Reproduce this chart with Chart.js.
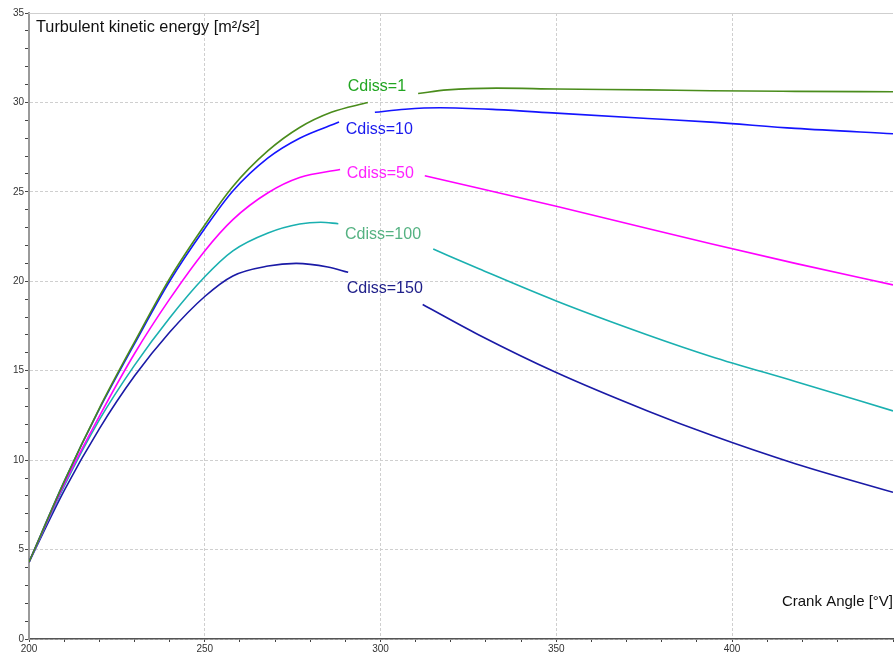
<!DOCTYPE html>
<html>
<head>
<meta charset="utf-8">
<script src="https://cdn.jsdelivr.net/npm/chart.js@4.4.0/dist/chart.umd.min.js"></script>
<style>
html, body { margin: 0; padding: 0; background: #fff; }
</style>
</head>
<body>
<canvas id="tkeChart" width="894" height="655"></canvas>
<script>
// curve names
var seriesNames = ['Cdiss=1', 'Cdiss=10', 'Cdiss=50', 'Cdiss=100', 'Cdiss=150'];

// crank angle [°V] / turbulent kinetic energy [m²/s²]; null = gap where the label sits
var angle1 = [200, 210, 220, 230, 240, 250, 258, 268, 277, 286, 296.4, 303, 310.7, 319, 333, 350, 376, 394, 418, 445.8];
var tke1   = [4.3, 8.8, 12.9, 16.6, 20.15, 23.15, 25.3, 27.3, 28.6, 29.45, 30.0, null, 30.5, 30.7, 30.8, 30.75, 30.7, 30.65, 30.62, 30.6];

var angle2 = [200, 210, 220, 230, 240, 250, 258, 268, 277, 288.2, 293, 298.4, 307, 317, 333, 350, 376, 394, 418, 445.8];
var tke2   = [4.3, 8.8, 12.85, 16.5, 20.0, 22.95, 25.05, 26.9, 28.0, 28.9, null, 29.45, 29.62, 29.7, 29.6, 29.4, 29.1, 28.9, 28.55, 28.25];

var angle3 = [200, 210, 220, 230, 240, 250, 258, 268, 277, 288.5, 300, 312.6, 328, 350, 376, 394, 418, 445.8];
var tke3   = [4.3, 8.65, 12.45, 15.95, 19.0, 21.7, 23.45, 24.95, 25.8, 26.25, null, 25.9, 25.2, 24.2, 22.95, 22.1, 21.0, 19.8];

var angle4 = [200, 210, 220, 230, 240, 250, 258, 268, 277, 283, 288, 300, 315, 328, 350, 376, 394, 418, 445.8];
var tke4   = [4.3, 8.55, 12.25, 15.3, 17.95, 20.25, 21.7, 22.7, 23.2, 23.3, 23.22, null, 21.8, 20.7, 18.9, 17.0, 15.8, 14.4, 12.75];

var angle5 = [200, 210, 220, 230, 240, 250, 258, 268, 276, 285, 290.8, 300, 312, 328, 350, 376, 394, 418, 445.8];
var tke5   = [4.3, 8.3, 11.75, 14.7, 17.15, 19.15, 20.3, 20.85, 21.0, 20.8, 20.5, null, 18.7, 17.0, 14.9, 12.75, 11.4, 9.8, 8.2];

var lineColors  = ['#4a8c1c', '#1414ff', '#ff00ff', '#1ab0b0', '#1a1aa6'];
var labelColors = ['#22a622', '#1a1aee', '#ff22ff', '#55b282', '#20208a'];

// where the curve labels go, in data units
var labelAngle = [290.7, 290.1, 290.4, 289.9, 290.4];
var labelTke   = [30.9, 28.5, 26.0, 22.6, 19.6];

var angleMajor = 50;
var tkeMajor = 5;

function toPoints(xs, ys) {
    var pts = [];
    for (var i = 0; i < xs.length; i++) {
        pts.push({ x: xs[i], y: ys[i] });
    }
    return pts;
}

var allAngles = [angle1, angle2, angle3, angle4, angle5];
var allTke = [tke1, tke2, tke3, tke4, tke5];

var datasets = [];
for (var s = 0; s < seriesNames.length; s++) {
    datasets.push({
        label: seriesNames[s],
        data: toPoints(allAngles[s], allTke[s]),
        borderColor: lineColors[s],
        borderWidth: 1.6,
        pointRadius: 0,
        fill: false,
        spanGaps: false,
        cubicInterpolationMode: 'monotone'
    });
}

// top frame line, curve labels and axis captions
var textPlugin = {
    id: 'textPlugin',
    beforeDatasetsDraw: function (chart) {
        var a = chart.chartArea, c = chart.ctx;
        c.save();
        c.strokeStyle = '#cfcfcf';
        c.lineWidth = 1;
        c.beginPath();
        c.moveTo(a.left, a.top + 0.5);
        c.lineTo(a.right, a.top + 0.5);
        c.stroke();
        c.restore();
    },
    afterDatasetsDraw: function (chart) {
        var ctx = chart.ctx;
        var xs = chart.scales.x, ys = chart.scales.y;
        ctx.save();
        ctx.textBaseline = 'middle';
        ctx.textAlign = 'left';
        ctx.font = '16px "Liberation Sans", Arial, sans-serif';
        for (var i = 0; i < seriesNames.length; i++) {
            ctx.fillStyle = labelColors[i];
            ctx.fillText(seriesNames[i], xs.getPixelForValue(labelAngle[i]), ys.getPixelForValue(labelTke[i]));
        }
        ctx.fillStyle = '#111';
        ctx.font = '16.3px "Liberation Sans", Arial, sans-serif';
        ctx.fillText('Turbulent kinetic energy [m²/s²]', 36, 28);
        ctx.font = '15px "Liberation Sans", Arial, sans-serif';
        ctx.textAlign = 'right';
        ctx.fillText('Crank Angle [°V]', 893, 602);
        ctx.restore();
    }
};

function majorGrid(step) {
    return function (c) {
        if (!c.tick) return 'transparent';
        var v = c.tick.value;
        return (Math.abs(v % step) < 1e-6) ? '#cfcfcf' : 'transparent';
    };
}

var ctx = document.getElementById('tkeChart').getContext('2d');
var tkeChart = new Chart(ctx, {
    type: 'line',
    data: { datasets: datasets },
    options: {
        responsive: false,
        animation: false,
        layout: { padding: { top: 13, right: 0, left: 0, bottom: 0 } },
        plugins: {
            legend: { display: false },
            tooltip: { enabled: false }
        },
        scales: {
            x: {
                type: 'linear',
                min: 200,
                max: 445.8,
                afterFit: function (scale) { scale.height = 16; },
                ticks: {
                    stepSize: 10,
                    autoSkip: false,
                    maxRotation: 0,
                    padding: 1,
                    color: '#333',
                    font: { size: 10, family: '"Liberation Sans", Arial, sans-serif' },
                    callback: function (v) { return (Math.abs(v % angleMajor) < 1e-6) ? v : ''; }
                },
                grid: {
                    color: majorGrid(angleMajor),
                    tickColor: '#444',
                    tickLength: 3,
                    tickBorderDash: []
                },
                border: { color: '#555', width: 1.5, dash: [3, 2] }
            },
            y: {
                min: 0,
                max: 35,
                afterFit: function (scale) { scale.width = 29; },
                ticks: {
                    stepSize: 1,
                    autoSkip: false,
                    padding: 1,
                    color: '#333',
                    font: { size: 10, family: '"Liberation Sans", Arial, sans-serif' },
                    callback: function (v) { return (Math.abs(v % tkeMajor) < 1e-6) ? v : ''; }
                },
                grid: {
                    color: majorGrid(tkeMajor),
                    tickColor: '#444',
                    tickLength: 4,
                    tickBorderDash: []
                },
                border: { color: '#9a9a9a', width: 2, dash: [3, 2] }
            }
        }
    },
    plugins: [textPlugin]
});
</script>
</body>
</html>
